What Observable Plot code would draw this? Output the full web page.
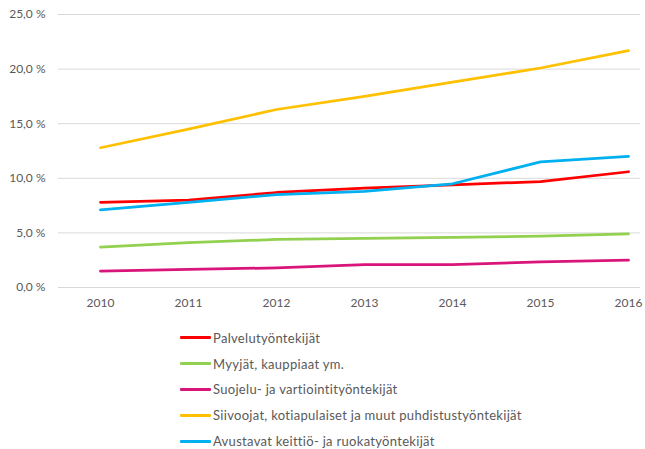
<!DOCTYPE html>
<html>
<head>
<meta charset="utf-8">
<script src="https://cdn.jsdelivr.net/npm/d3@7"></script>
<script src="https://cdn.jsdelivr.net/npm/@observablehq/plot@0.6"></script>
<style>
  html, body { margin: 0; padding: 0; background: #fff; }
  #chart { width: 645px; height: 449px; position: relative; font-family: Lato, "Open Sans", sans-serif; color: #595959; }
  #legend { position: absolute; left: 180px; top: 325px; }
  .row { display: flex; align-items: center; height: 25.8px; font-size: 13px; letter-spacing: 0.3px; color: #595959; white-space: nowrap; }
  .sw { width: 31px; height: 3px; margin-right: 2px; border-radius: 1px; }
</style>
</head>
<body>
<div id="chart"></div>
<script>
const years = [2010, 2011, 2012, 2013, 2014, 2015, 2016];
const seriesNames = [
  "Palvelutyöntekijät",
  "Myyjät, kauppiaat ym.",
  "Suojelu- ja vartiointityöntekijät",
  "Siivoojat, kotiapulaiset ja muut puhdistustyöntekijät",
  "Avustavat keittiö- ja ruokatyöntekijät"
];
const palvelu   = [7.8, 8.0, 8.7, 9.1, 9.4, 9.7, 10.6];
const myyjat    = [3.7, 4.1, 4.4, 4.5, 4.6, 4.7, 4.9];
const suojelu   = [1.5, 1.65, 1.8, 2.1, 2.1, 2.35, 2.5];
const siivoojat = [12.8, 14.5, 16.3, 17.5, 18.8, 20.1, 21.7];
const avustavat = [7.1, 7.8, 8.5, 8.8, 9.5, 11.5, 12.0];
const yTicks = [0, 5, 10, 15, 20, 25];

const seriesColors = ["#ff0000", "#92d050", "#d9157b", "#ffc000", "#00b0f0"];

const valueArrays = [palvelu, myyjat, suojelu, siivoojat, avustavat];
const data = [];
seriesNames.forEach((name, i) => {
  years.forEach((yr, j) => data.push({series: name, year: yr, value: valueArrays[i][j]}));
});

const fmt = v => d3.format(".1f")(v).replace(".", ",") + " %";

const plot = Plot.plot({
  width: 645,
  height: 320,
  marginLeft: 58,
  marginRight: 5,
  marginTop: 14,
  marginBottom: 33,
  style: {fontFamily: "Lato, 'Open Sans', sans-serif", fontSize: "12px", color: "#595959", background: "white"},
  x: {type: "point", domain: years, padding: 0, insetLeft: 41, insetRight: 12, tickSize: 0, tickPadding: 11, label: null, tickFormat: d => String(d)},
  y: {domain: [0, 25], ticks: yTicks, tickFormat: fmt, tickSize: 0, tickPadding: 13, label: null},
  color: {domain: seriesNames, range: seriesColors},
  marks: [
    Plot.ruleY(yTicks, {stroke: "#d9d9d9", strokeWidth: 1}),
    Plot.line(data, {x: "year", y: "value", z: "series", stroke: "series", strokeWidth: 2.75, strokeLinecap: "round"})
  ]
});

const chart = document.getElementById("chart");
chart.appendChild(plot);

const legend = document.createElement("div");
legend.id = "legend";
seriesNames.forEach((name, i) => {
  const row = document.createElement("div");
  row.className = "row";
  const sw = document.createElement("div");
  sw.className = "sw";
  sw.style.background = seriesColors[i];
  const label = document.createElement("span");
  label.textContent = name;
  row.appendChild(sw);
  row.appendChild(label);
  legend.appendChild(row);
});
chart.appendChild(legend);
</script>
</body>
</html>
